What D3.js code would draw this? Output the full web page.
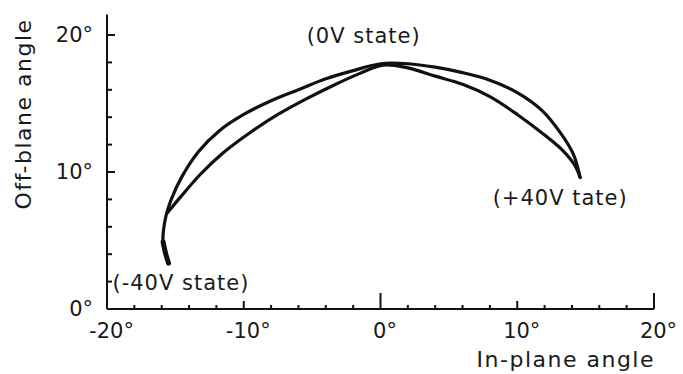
<!DOCTYPE html>
<html>
<head>
<meta charset="utf-8">
<script src="https://cdn.jsdelivr.net/npm/d3@7"></script>
<style>
  body { margin: 0; background: #fff; }
  svg { display: block; }
  text { font-family: "DejaVu Sans", sans-serif; fill: #1a1a1a; }
</style>
</head>
<body>
<svg width="683" height="374"></svg>
<script>
// data (degrees)
const xTicks = [-20, -10, 0, 10, 20];
const yTicks = [0, 10, 20];
const xMinor = d3.range(-18, 20, 2);
const yMinor = d3.range(2, 20, 2);

// outer (upper) branch, left tip -> right tip
const outerBranch = [
    [-15.5, 3.35], [-15.9, 4.8], [-15.75, 6.5], [-15.3, 8.0], [-14.5, 9.7],
    [-13.3, 11.5], [-11.8, 13.0], [-10.0, 14.2], [-8.0, 15.2], [-6.0, 16.0],
    [-4.0, 16.8], [-2.0, 17.4], [0.0, 17.9], [2.0, 17.9], [4.0, 17.65],
    [6.0, 17.25], [8.0, 16.7], [10.0, 15.8], [11.8, 14.5], [13.2, 12.8],
    [14.1, 11.3], [14.6, 9.6]
];
// inner (lower) branch
const innerBranch = [
    [-15.6, 7.0], [-14.6, 8.2], [-13.2, 9.8], [-11.5, 11.4], [-9.5, 12.9],
    [-7.5, 14.2], [-5.5, 15.3], [-3.5, 16.3], [-1.5, 17.2], [0.2, 17.8],
    [2.0, 17.6], [4.0, 17.0], [6.0, 16.4], [8.0, 15.5], [10.0, 14.2],
    [12.0, 12.7], [13.3, 11.6], [14.2, 10.5], [14.6, 9.6]
];
// thick blob at the -40V end
const leftTip = [[-15.9, 4.9], [-15.7, 4.0], [-15.5, 3.35]];

const stateLabels = [
    { text: "(0V state)", at: [-5.4, 19.4] },
    { text: "(+40V tate)", at: [8.2, 7.6] },
    { text: "(-40V state)", at: [-19.6, 1.4] }
];

const svg = d3.select("svg");

var x = d3.scaleLinear().domain([-20, 20]).range([107, 654]);
var y = d3.scaleLinear().domain([0, 20]).range([309, 35]);

const g = svg.append("g");

// axis lines
g.append("line")
    .attr("x1", x(-20)).attr("x2", x(20))
    .attr("y1", y(0)).attr("y2", y(0))
    .attr("stroke", "#111").attr("stroke-width", 2);
g.append("line")
    .attr("x1", x(-20)).attr("x2", x(-20))
    .attr("y1", y(0)).attr("y2", y(21.5))
    .attr("stroke", "#111").attr("stroke-width", 2);

// x ticks (pointing up, inside)
const xTickLen = d => (d === 0 || d === 20) ? 16 : (Math.abs(d) === 10 ? 8 : 4);
g.selectAll(".xt")
    .data(xMinor.concat([20]))
    .enter().append("line")
    .attr("x1", d => x(d)).attr("x2", d => x(d))
    .attr("y1", y(0)).attr("y2", d => y(0) - xTickLen(d))
    .attr("stroke", "#111").attr("stroke-width", 2);

// y ticks (pointing right, inside)
const yTickLen = d => (d % 10 === 0) ? 8 : 5;
g.selectAll(".yt")
    .data(yMinor.concat([20]))
    .enter().append("line")
    .attr("x1", x(-20)).attr("x2", d => x(-20) + yTickLen(d))
    .attr("y1", d => y(d)).attr("y2", d => y(d))
    .attr("stroke", "#111").attr("stroke-width", 2);

// tick labels via axes with no tick lines
const xAxis = d3.axisBottom(x).tickValues(xTicks).tickFormat(d => d + "°").tickSize(0).tickPadding(14);
const gX = g.append("g").attr("transform", `translate(0, ${y(0)})`).call(xAxis);
gX.select(".domain").remove();
gX.selectAll("text").attr("font-size", 21).attr("dx", 4).attr("font-family", null);

const yAxis = d3.axisLeft(y).tickValues(yTicks).tickFormat(d => d + "°").tickSize(0).tickPadding(14);
const gY = g.append("g").attr("transform", `translate(${x(-20)}, 0)`).call(yAxis);
gY.select(".domain").remove();
gY.selectAll("text").attr("font-size", 21).attr("font-family", null);

// curves
const line = d3.line()
    .x(d => x(d[0]))
    .y(d => y(d[1]))
    .curve(d3.curveCatmullRom.alpha(0.5));

[outerBranch, innerBranch].forEach(branch => {
    g.append("path").datum(branch)
        .attr("d", line).attr("fill", "none")
        .attr("stroke", "#111").attr("stroke-width", 3.2)
        .attr("stroke-linecap", "round").attr("stroke-linejoin", "round");
});
g.append("path").datum(leftTip)
    .attr("d", line).attr("fill", "none")
    .attr("stroke", "#111").attr("stroke-width", 5)
    .attr("stroke-linecap", "round");

// state labels
g.selectAll(".state")
    .data(stateLabels)
    .enter().append("text")
    .attr("x", d => x(d.at[0]))
    .attr("y", d => y(d.at[1]))
    .attr("font-size", 21)
    .attr("letter-spacing", 1)
    .text(d => d.text);

// axis labels
g.append("text")
    .attr("text-anchor", "end")
    .attr("x", 655)
    .attr("y", 367)
    .attr("font-size", 22)
    .attr("letter-spacing", 1.5)
    .text("In-plane angle");

g.append("text")
    .attr("text-anchor", "middle")
    .attr("transform", "translate(31, 114) rotate(-90)")
    .attr("font-size", 22)
    .attr("letter-spacing", 1.5)
    .text("Off-blane angle");
</script>
</body>
</html>
